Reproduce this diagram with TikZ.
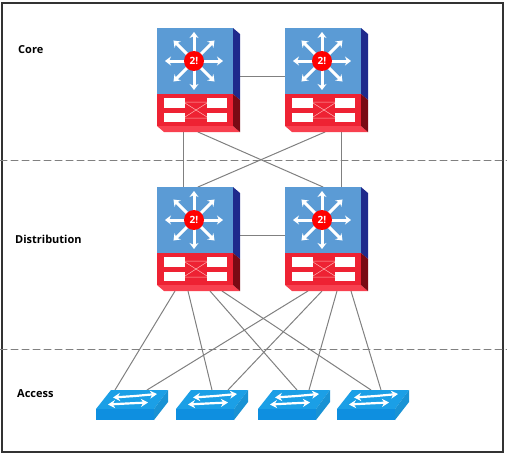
\documentclass[tikz,border=0pt]{standalone}
\usepackage{fontspec}
\setmainfont{Open Sans}
\usepackage{tkz-euclide}
\usetikzlibrary{arrows.meta}

\definecolor{rblue}{HTML}{5B9BD5}
\definecolor{rnavy}{HTML}{1F2A8C}
\definecolor{rred}{HTML}{EE2233}
\definecolor{rbevel}{HTML}{F8404F}
\definecolor{rdark}{HTML}{7A0A14}
\definecolor{stop}{HTML}{1B9FE6}
\definecolor{sfront}{HTML}{0E8FE0}

\tikzset{
  link/.style={line width=1pt,color=black!50},
  band/.style={line width=1pt,color=black!50,dash pattern=on 7pt off 4pt},
  label/.style={anchor=west,inner sep=0pt,font=\fontsize{11}{13}\selectfont\bfseries},
  ray/.style={white,line width=3pt,-{Stealth[length=6pt,width=9pt]}},
  sarrow/.style={white,line width=2.2pt,-{Stealth[length=7pt,width=8pt]}},
  port/.style={fill=white,draw=none}
}

\newcommand{\DrawRouter}[2]{%
\begin{scope}[shift={(#1,#2)}]
\fill[rblue] (0,0) rectangle (76,66);
\fill[rnavy] (76,0) -- (83,6) -- (83,72) -- (76,66) -- cycle;
\fill[rred] (0,66) rectangle (76,98);
\fill[rbevel] (0,98) -- (76,98) -- (83,104) -- (7,104) -- cycle;
\fill[rdark] (76,66) -- (83,72) -- (83,104) -- (76,98) -- cycle;
\foreach \a in {0,45,...,315}
  \draw[ray] (37,33) -- ++(\a:29);
\node[circle,fill=red,minimum size=20pt,inner sep=0pt,text=white,
  font=\fontsize{10}{10}\selectfont\bfseries] at (37,33) {2!};
\draw[line width=.5pt,color=red!30] (28,74) -- (50,74) (28,90) -- (50,90) (28,75) -- (50,89) (28,89) -- (50,75);
\fill[port] (7,70) rectangle (28,80);
\fill[port] (50,70) rectangle (70,80);
\fill[port] (7,85) rectangle (28,94);
\fill[port] (50,85) rectangle (70,94);
\end{scope}}

\newcommand{\DrawSwitch}[2]{%
\begin{scope}[shift={(#1,#2)}]
\fill[stop] (15,-19) -- (72,-19) -- (58,0) -- (0,0) -- cycle;
\fill[sfront] (0,0) rectangle (58,11);
\fill[stop!92!black] (72,-19) -- (72,-7) -- (58,11) -- (58,0) -- cycle;
\draw[sarrow] (39,-13) -- (17,-11.5);
\draw[sarrow] (39,-13) -- (61,-15);
\draw[sarrow] (31,-5.5) -- (12,-4.5);
\draw[sarrow] (31,-5.5) -- (52,-6.5);
\end{scope}}

\begin{document}
\begin{tikzpicture}[x=1pt,y=-1pt]
\useasboundingbox (0,0) rectangle (507,458);

\tkzDefPoints{0/160/Ba,507/160/Bb,0/349/Bc,507/349/Bd}
\tkzDefPoints{183/132/CLa,198/132/CLb,325/132/CRa,341/132/CRb,240/76/CLs,285/76/CRs}
\tkzDefPoints{183/187/DLa,198/187/DLb,323/187/DRa,341/187/DRb,240/235/DLs,285/235/DRs}
\tkzDefPoints{175/291/LPa,188/291/LPb,210/291/LPc,222/291/LPd}
\tkzDefPoints{308/291/RPa,322/291/RPb,337/291/RPc,351/291/RPd}
\tkzDefPoints{115/390/SAa,147/390/SAb,212/390/SBa,228/390/SBb}
\tkzDefPoints{297/390/SCa,309/390/SCb,371/390/SDa,381/390/SDb}

\draw[line width=1.5pt,color=black!80] (2,3) rectangle (503,452);

\tkzDrawSegments[band](Ba,Bb Bc,Bd)
\tkzDrawSegments[link](CLs,CRs DLs,DRs CLa,DLa CRb,DRb CLb,DRa CRa,DLb)
\tkzDrawSegments[link](LPa,SAa LPb,SBa LPc,SCa LPd,SDa)
\tkzDrawSegments[link](RPa,SAb RPb,SBb RPc,SCb RPd,SDb)

\DrawRouter{157}{28}
\DrawRouter{285}{28}
\DrawRouter{157}{187}
\DrawRouter{285}{187}

\DrawSwitch{96}{409}
\DrawSwitch{176}{409}
\DrawSwitch{258}{409}
\DrawSwitch{337}{409}

\node[label] (core) at (18,50) {Core};
\node[label] (dist) at (15,239) {Distribution};
\node[label] (acc) at (17,394) {Access};

\end{tikzpicture}
\end{document}
